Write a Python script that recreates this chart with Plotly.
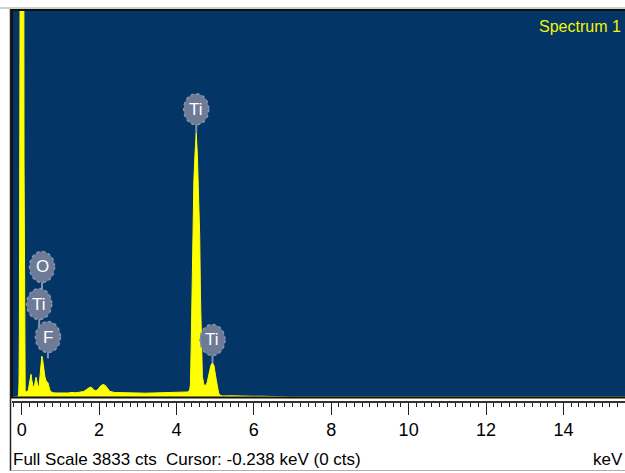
import plotly.graph_objects as go

# EDS spectrum, counts per energy (keV)
energy_kev = [-0.25, -0.10, -0.08, -0.07, -0.06, -0.05, -0.03, -0.01, 0.01, 0.03, 0.05, 0.06,
              0.07, 0.08, 0.09, 0.11, 0.14, 0.17, 0.20, 0.22, 0.24, 0.26, 0.29, 0.32, 0.35,
              0.37, 0.39, 0.42, 0.45, 0.48, 0.50, 0.52, 0.54, 0.57, 0.60, 0.63, 0.66, 0.68,
              0.70, 0.73, 0.77, 0.82, 0.90, 1.00, 1.10, 1.20, 1.30, 1.40, 1.50, 1.60, 1.68,
              1.75, 1.80, 1.86, 1.92, 1.98, 2.04, 2.10, 2.16, 2.22, 2.28, 2.40, 2.60, 2.80,
              3.00, 3.20, 3.40, 3.60, 3.80, 4.00, 4.20, 4.30, 4.34, 4.36, 4.38, 4.40, 4.42,
              4.45, 4.48, 4.51, 4.54, 4.57, 4.60, 4.62, 4.64, 4.67, 4.71, 4.75, 4.79, 4.84,
              4.89, 4.93, 4.97, 5.01, 5.05, 5.09, 5.13, 5.20, 5.40, 5.60, 5.80, 6.00, 6.20,
              6.50, 6.80, 6.90, 15.60]
counts = [0, 0, 30, 150, 670, 2350, 6500, 25000, 40000, 25000, 6500, 2350,
          670, 155, 60, 55, 50, 70, 140, 200, 225, 170, 110, 95, 150,
          195, 160, 105, 110, 230, 350, 405, 370, 260, 200, 160, 145, 140,
          110, 65, 50, 42, 40, 38, 42, 40, 45, 42, 48, 55, 75,
          95, 97, 70, 60, 80, 110, 124, 115, 80, 55, 45, 42, 38,
          36, 38, 40, 42, 45, 44, 46, 50, 70, 120, 500, 1000, 1650,
          2150, 2420, 2616, 2400, 2050, 1600, 1000, 500, 200, 120, 114, 140, 230,
          315, 338, 310, 210, 100, 40, 16, 10, 12, 8, 10, 7, 8,
          6, 7, 0, 0]

FULL_SCALE = 3833

# Peak labels: text, line energy (keV), badge centre (cts), stem end (cts)
label_text = ["Ti", "Ti", "O", "Ti", "F"]
label_energy = [4.51, 4.93, 0.525, 0.452, 0.677]
label_badge_cts = [2850, 565, 1288, 921, 594]
label_stem_end = [2616, 338, 921, 594, 383]

W, H = 625, 473
ML, MT, MB = 12, 10, 71
PLOT_H = H - MT - MB


def px_x(px):
    return (px - ML) / (W - ML)


def px_y(py):
    return (H - MB - py) / PLOT_H


NAVY = "#033567"
YELLOW = "#ffff00"
BADGE = "#6e7b96"
SANS = "Liberation Sans, Arial, sans-serif"

fig = go.Figure()
fig.add_trace(go.Scatter(
    x=energy_kev, y=counts, mode="lines",
    line=dict(color=YELLOW, width=1),
    fill="tozeroy", fillcolor=YELLOW,
    hoverinfo="skip", showlegend=False,
))

shapes = []
# stems first, badges on top of them
for e, yb, ys in zip(label_energy, label_badge_cts, label_stem_end):
    shapes.append(dict(type="line", xref="x", yref="y", x0=e, x1=e, y0=yb, y1=ys,
                       line=dict(color="#8792aa", width=2), layer="above"))
for e, yb in zip(label_energy, label_badge_cts):
    shapes.append(dict(type="circle", xref="x", yref="y", xsizemode="pixel", ysizemode="pixel",
                       xanchor=e, yanchor=yb, x0=-12.5, x1=12.5, y0=-15.5, y1=15.5,
                       fillcolor=BADGE, line=dict(color="#8a96b0", width=1.5, dash="dot"),
                       layer="above"))

# frame around the spectrum window
shapes += [
    dict(type="rect", xref="paper", yref="paper", x0=0, x1=1.02, y0=px_y(397.5), y1=px_y(10),
         line=dict(color="#111111", width=2), fillcolor="rgba(0,0,0,0)", layer="above"),
    dict(type="line", xref="paper", yref="paper", x0=px_x(0), x1=1, y0=px_y(8), y1=px_y(8),
         line=dict(color="#a0a0a0", width=1)),
    dict(type="line", xref="paper", yref="paper", x0=px_x(10.5), x1=px_x(10.5), y0=px_y(471), y1=px_y(9),
         line=dict(color="#222222", width=1.5)),
    dict(type="line", xref="paper", yref="paper", x0=px_x(10.5), x1=1, y0=px_y(470.5), y1=px_y(470.5),
         line=dict(color="#b0b0b0", width=1)),
]

annotations = []
for t, e, yb in zip(label_text, label_energy, label_badge_cts):
    annotations.append(dict(x=e, y=yb, xref="x", yref="y", text=t, showarrow=False,
                            font=dict(family=SANS, size=17, color="white")))
annotations += [
    dict(x=px_x(623), y=px_y(26), xref="paper", yref="paper", text="Spectrum 1",
         showarrow=False, xanchor="right", yanchor="middle",
         font=dict(family=SANS, size=16, color="#f4f400")),
    dict(x=px_x(11), y=px_y(459), xref="paper", yref="paper",
         text="Full Scale 3833 cts  Cursor: -0.238 keV (0 cts)",
         showarrow=False, xanchor="left", yanchor="middle",
         font=dict(family=SANS, size=17, color="black")),
    dict(x=px_x(625), y=px_y(459), xref="paper", yref="paper", text="keV",
         showarrow=False, xanchor="right", yanchor="middle",
         font=dict(family=SANS, size=17, color="black")),
]

fig.update_layout(
    width=W, height=H,
    margin=dict(l=ML, r=0, t=MT, b=MB, pad=0),
    paper_bgcolor="white",
    plot_bgcolor=NAVY,
    shapes=shapes,
    annotations=annotations,
    xaxis=dict(
        range=[-0.251, 15.592], anchor="free", position=0,
        showgrid=False, zeroline=False,
        showline=True, linecolor="#333333", linewidth=1.5,
        ticks="outside", tickmode="linear", tick0=0, dtick=2,
        ticklen=12, tickwidth=1, tickcolor="#222222",
        minor=dict(ticks="outside", dtick=0.2, ticklen=4, tickwidth=1, tickcolor="#222222",
                   showgrid=False),
        tickfont=dict(family=SANS, size=18, color="black"),
    ),
    yaxis=dict(
        domain=[px_y(397), 1], range=[0, FULL_SCALE],
        showgrid=False, zeroline=False, showticklabels=False, ticks="", showline=False,
    ),
)

fig.write_html("out.html")
